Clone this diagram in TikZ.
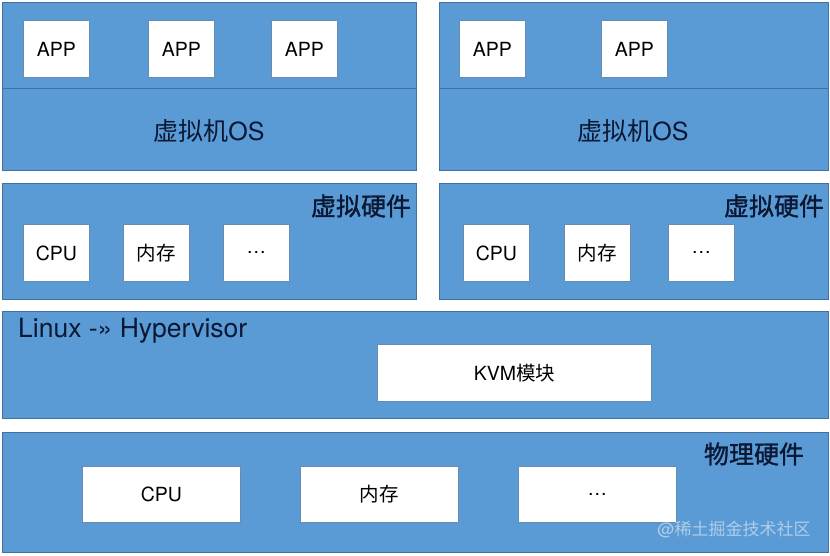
\documentclass[tikz,border=0pt]{standalone}
\usepackage{fontspec}
\setmainfont{TeX Gyre Heros}
\newfontfamily\cjk{Noto Sans CJK SC}
\newfontfamily\cjkheavy[FakeBold=1.2]{Noto Sans CJK SC}
\usetikzlibrary{calc}

\definecolor{layerblue}{HTML}{5B9BD5}
\definecolor{layeredge}{HTML}{41719C}
\definecolor{labelink}{HTML}{0B1833}

\tikzset{%
  layer/.style={draw=layeredge,fill=layerblue,line width=1.2pt,
    anchor=north west,inner sep=0pt},
  unit/.style={draw=layeredge!80,fill=white,line width=0.8pt,
    anchor=north west,inner sep=0pt,font=\fontsize{19.5}{20}\selectfont},
  title/.style={text=labelink,inner sep=0pt,font=\fontsize{25}{26}\selectfont},
  hwtitle/.style={title,anchor=east,font=\fontsize{25}{26}\selectfont\cjkheavy}%
}

\begin{document}
\begin{tikzpicture}[x=1pt,y=-1pt] % KVM
\def\uw{66} % small box width
\def\uh{57} % small box height

\useasboundingbox (0,0) rectangle (830,556);

%% virtual machines

\node[layer,minimum width=414,minimum height=168] (vmA) at (2,2) {};
\node[layer,minimum width=389,minimum height=168] (vmB) at (439,2) {};
\draw[layeredge,line width=1pt] ([yshift=-2pt]vmA.west) -- ([yshift=-2pt]vmA.east);
\draw[layeredge,line width=1pt] ([yshift=-2pt]vmB.west) -- ([yshift=-2pt]vmB.east);

\foreach \x/\n in {23/a1,148/a2,271/a3,459/b1,601/b2}
  \node[unit,minimum width=\uw,minimum height=\uh] (app\n) at (\x,20) {APP};

\node[title] (osA) at (209,131) {{\cjk 虚拟机}OS};
\node[title] (osB) at (633,131) {{\cjk 虚拟机}OS};

%% virtual hardware

\node[layer,minimum width=414,minimum height=116] (vhA) at (2,183) {};
\node[layer,minimum width=389,minimum height=116] (vhB) at (439,183) {};
\node[hwtitle] (vhlabelA) at ($(vhA.north east)+(-6,23)$) {虚拟硬件};
\node[hwtitle] (vhlabelB) at ($(vhB.north east)+(-5,23)$) {虚拟硬件};

\foreach \x/\n/\t in {23/a1/CPU,123/a2/{\cjk 内存},223/a3/\dots,
                      463/b1/CPU,564/b2/{\cjk 内存},668/b3/\dots}
  \node[unit,minimum width=\uw,minimum height=\uh] (vdev\n) at (\x,224) {\t};

%% hypervisor

\node[layer,minimum width=826,minimum height=107] (hyper) at (2,311) {};
\node[title,anchor=west,font=\fontsize{26.5}{27}\selectfont] (hyperlabel)
  at ($(hyper.north west)+(16,20)$) {Linux -» Hypervisor};
\node[unit,minimum width=274,minimum height=57] (kvm) at (377,344) {KVM{\cjk 模块}};

%% physical hardware

\node[layer,minimum width=826,minimum height=120] (phys) at (2,432) {};
\node[hwtitle] (physlabel) at ($(phys.north east)+(-25,22)$) {物理硬件};

\foreach \x/\n/\t in {82/1/CPU,300/2/{\cjk 内存},518/3/\dots}
  \node[unit,minimum width=158,minimum height=56] (pdev\n) at (\x,466) {\t};

\node[text=white,opacity=0.5,inner sep=0pt,font=\fontsize{17}{18}\selectfont]
  (mark) at (734,529) {@{\cjk 稀土掘金技术社区}};
\end{tikzpicture}
\end{document}
